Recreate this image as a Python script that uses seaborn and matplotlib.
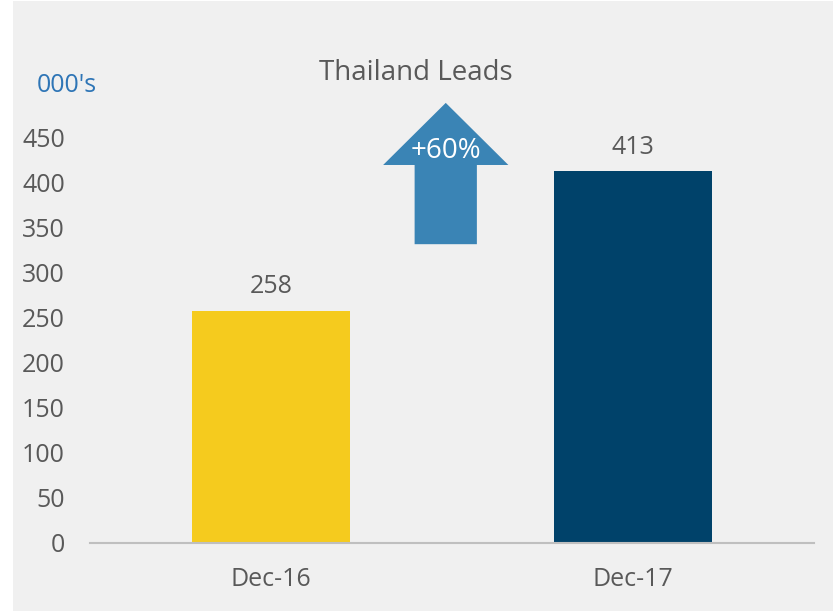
#gráfico de barras: Thailand Leads
import pandas as pd
import matplotlib.pyplot as plt
import matplotlib.patches as mpatches
import seaborn as sns

#datos
periodos = ["Dec-16", "Dec-17"]
leads = [258, 413]
colores = ["#F5CB1E", "#00426A"]
ticks_y = [0, 50, 100, 150, 200, 250, 300, 350, 400, 450]

df = pd.DataFrame({"Periodo": periodos, "Leads": leads})

sns.set_style("white")
plt.rcParams["font.family"] = ["Open Sans", "DejaVu Sans"]
gris = "#595959"

fig = plt.figure(figsize=(8.33, 6.13), dpi=100, facecolor="white")
#fondo gris del cuadro
fig.patches.append(mpatches.Rectangle((13 / 833, 0.003), 1, 0.995, transform=fig.transFigure,
                                      facecolor="#F0F0F0", edgecolor="none", zorder=-10))
ax = fig.add_axes([0.108, 0.1142, 0.869, 0.6607])
ax.set_facecolor("none")

sns.barplot(x="Periodo", y="Leads", data=df, hue="Periodo", palette=colores,
            width=0.436, legend=False, ax=ax, saturation=1, linewidth=0)

ax.set_xlim(-0.5, 1.5)
ax.set_ylim(0, 450)
ax.set_yticks(ticks_y)
ax.tick_params(axis="both", length=0, labelsize=18, labelcolor=gris)
ax.tick_params(axis="x", pad=17)
ax.tick_params(axis="y", pad=18)
ax.set_xlabel("")
ax.set_ylabel("")
sns.despine(ax=ax, left=True)
ax.spines["bottom"].set_color("#BFBFBF")
ax.spines["bottom"].set_linewidth(1.5)

#etiquetas de valores
for i, v in enumerate(leads):
    ax.text(i, v + 13, str(v), ha="center", va="bottom", fontsize=18, color=gris)

#flecha +60%
cambio = round((leads[1] - leads[0]) / leads[0] * 100)
cx = 0.483
flecha = mpatches.Polygon([(cx - 0.086, 332), (cx - 0.086, 420), (cx - 0.173, 420), (cx, 489),
                           (cx + 0.173, 420), (cx + 0.086, 420), (cx + 0.086, 332)],
                          closed=True, facecolor="#3A84B5", edgecolor="none", clip_on=False)
ax.add_patch(flecha)
ax.text(cx, 436, f"+{cambio}%", ha="center", va="center", fontsize=20, color="white")

#títulos
fig.text(416 / 833, 1 - 73 / 613, "Thailand Leads", ha="center", va="center", fontsize=20, color=gris)
fig.text(37 / 833, 1 - 85 / 613, "000's", ha="left", va="center", fontsize=18, color="#2E75B6")

plt.savefig("out.png", dpi=100, facecolor=fig.get_facecolor())
